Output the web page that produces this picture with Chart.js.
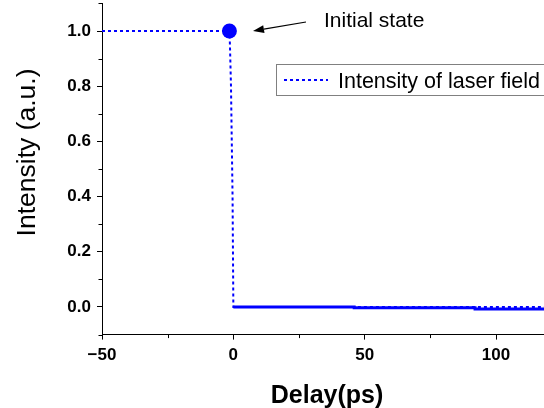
<!DOCTYPE html>
<html>
<head>
<meta charset="utf-8">
<script src="https://cdn.jsdelivr.net/npm/chart.js@4.4.1/dist/chart.umd.min.js"></script>
<style>
  html, body { margin: 0; padding: 0; background: #ffffff; }
  #wrap { width: 544px; height: 408px; position: relative; }
</style>
</head>
<body>
<div id="wrap"><canvas id="c" width="544" height="408"></canvas></div>
<script>
// ---- data ----
const laserX = [-50, -1.5, -1.3, -0.9, -0.3, 0, 120];
const laserY = [1.0, 1.0, 0.95, 0.8, 0.4, 0.0, 0.0];
const solidX = [0, 46, 46, 92, 92, 120];
const solidY = [0.0, 0.0, -0.003, -0.003, -0.007, -0.007];
const initX = [-1.5];
const initY = [1.0];
const xTickValues = [-50, -25, 0, 25, 50, 75, 100];
const xTickLabels = ['\u221250', '', '0', '', '50', '', '100'];
const yTickValues = [-0.1, 0.0, 0.1, 0.2, 0.3, 0.4, 0.5, 0.6, 0.7, 0.8, 0.9, 1.0, 1.1];
const yTickLabels = ['', '0.0', '', '0.2', '', '0.4', '', '0.6', '', '0.8', '', '1.0', ''];
const seriesLabel = 'Intensity of laser field';
const annotationText = 'Initial state';
const xTitle = 'Delay(ps)';
const yTitle = 'Intensity (a.u.)';

const BLUE = '#0000ff';
const FONT = "'Liberation Sans', Arial, sans-serif";

function pts(xs, ys) { return xs.map((x, i) => ({ x: x, y: ys[i] })); }

function labelFor(values, labels, v) {
  const i = values.findIndex(t => Math.abs(t - v) < 1e-9);
  return i >= 0 ? labels[i] : '';
}

const extras = {
  id: 'extras',
  afterDatasetsDraw(chart) {
    const ctx = chart.ctx;
    const xs = chart.scales.x, ys = chart.scales.y;
    ctx.save();
    // minor ticks
    ctx.strokeStyle = '#000';
    ctx.lineWidth = 1;
    xTickValues.forEach((v, i) => {
      if (xTickLabels[i] !== '') return;
      const px = Math.round(xs.getPixelForValue(v)) + 0.5;
      ctx.beginPath(); ctx.moveTo(px, ys.bottom); ctx.lineTo(px, ys.bottom + 3.5); ctx.stroke();
    });
    yTickValues.forEach((v, i) => {
      if (yTickLabels[i] !== '') return;
      const py = Math.round(ys.getPixelForValue(v)) + 0.5;
      ctx.beginPath(); ctx.moveTo(xs.left, py); ctx.lineTo(xs.left - 3.5, py); ctx.stroke();
    });

    // legend box
    ctx.fillStyle = '#fff';
    ctx.fillRect(276.5, 64.5, 300, 31);
    ctx.strokeStyle = '#808080';
    ctx.strokeRect(276.5, 64.5, 300, 31);
    ctx.strokeStyle = BLUE;
    ctx.lineWidth = 2;
    ctx.setLineDash([3, 3]);
    ctx.beginPath(); ctx.moveTo(284, 80); ctx.lineTo(328, 80); ctx.stroke();
    ctx.setLineDash([]);
    ctx.fillStyle = '#000';
    ctx.font = "21.5px " + FONT;
    ctx.textAlign = 'left';
    ctx.textBaseline = 'alphabetic';
    ctx.fillText(seriesLabel, 338, 87.5);

    // annotation
    ctx.font = "21px " + FONT;
    ctx.fillText(annotationText, 324, 26.5);
    // arrow
    const x1 = 306, y1 = 22, x2 = 253, y2 = 31;
    const ang = Math.atan2(y2 - y1, x2 - x1);
    const hl = 11, hw = 4;
    const bx = x2 - hl * Math.cos(ang), by = y2 - hl * Math.sin(ang);
    ctx.strokeStyle = '#000';
    ctx.lineWidth = 1.2;
    ctx.beginPath(); ctx.moveTo(x1, y1); ctx.lineTo(bx, by); ctx.stroke();
    ctx.beginPath();
    ctx.moveTo(x2, y2);
    ctx.lineTo(bx + hw * Math.sin(ang), by - hw * Math.cos(ang));
    ctx.lineTo(bx - hw * Math.sin(ang), by + hw * Math.cos(ang));
    ctx.closePath();
    ctx.fillStyle = '#000';
    ctx.fill();

    // axis titles
    ctx.font = "bold 25px " + FONT;
    ctx.textAlign = 'center';
    ctx.fillText(xTitle, 327, 403);
    ctx.save();
    ctx.translate(35, 152.5);
    ctx.rotate(-Math.PI / 2);
    ctx.font = "26.5px " + FONT;
    ctx.fillText(yTitle, 0, 0);
    ctx.restore();
    ctx.restore();
  }
};

new Chart(document.getElementById('c'), {
  type: 'scatter',
  data: {
    datasets: [
      {
        label: annotationText,
        data: pts(initX, initY),
        showLine: false,
        pointRadius: 7.5,
        pointBackgroundColor: BLUE,
        pointBorderColor: BLUE,
        pointBorderWidth: 0
      },
      {
        label: seriesLabel,
        data: pts(laserX, laserY),
        showLine: true,
        borderColor: BLUE,
        borderWidth: 2,
        borderDash: [3, 3],
        pointRadius: 0,
        tension: 0
      },
      {
        label: 'solid',
        data: pts(solidX, solidY),
        showLine: true,
        borderColor: BLUE,
        borderWidth: 3,
        pointRadius: 0,
        tension: 0
      }
    ]
  },
  options: {
    responsive: false,
    animation: false,
    devicePixelRatio: 1,
    layout: { autoPadding: false, padding: { top: 3.4, right: 0, left: 0, bottom: 0 } },
    plugins: { legend: { display: false }, tooltip: { enabled: false }, title: { display: false } },
    scales: {
      x: {
        type: 'linear',
        min: -50,
        max: 118.25,
        afterBuildTicks: s => { s.ticks = xTickValues.map(v => ({ value: v })); },
        afterFit: s => { s.height = 73.4; s.paddingLeft = 0; s.paddingRight = 0; },
        border: { display: true, color: '#000', width: 1 },
        grid: {
          display: true, drawOnChartArea: false, drawTicks: true, tickLength: 5,
          tickColor: c => (c.tick && labelFor(xTickValues, xTickLabels, c.tick.value) !== '') ? '#000' : 'rgba(0,0,0,0)'
        },
        ticks: {
          autoSkip: false, maxRotation: 0, padding: 6, color: '#000',
          font: { family: FONT, size: 17, weight: 'bold' },
          callback: v => labelFor(xTickValues, xTickLabels, v)
        }
      },
      y: {
        type: 'linear',
        min: -0.1,
        max: 1.1,
        afterBuildTicks: s => { s.ticks = yTickValues.map(v => ({ value: v })); },
        afterFit: s => { s.width = 102; s.paddingTop = 0; s.paddingBottom = 0; },
        border: { display: true, color: '#000', width: 1 },
        grid: {
          display: true, drawOnChartArea: false, drawTicks: true, tickLength: 5,
          tickColor: c => (c.tick && labelFor(yTickValues, yTickLabels, c.tick.value) !== '') ? '#000' : 'rgba(0,0,0,0)'
        },
        ticks: {
          autoSkip: false, padding: 6, color: '#000',
          font: { family: FONT, size: 17, weight: 'bold' },
          callback: v => labelFor(yTickValues, yTickLabels, v)
        }
      }
    }
  },
  plugins: [extras]
});
</script>
</body>
</html>
